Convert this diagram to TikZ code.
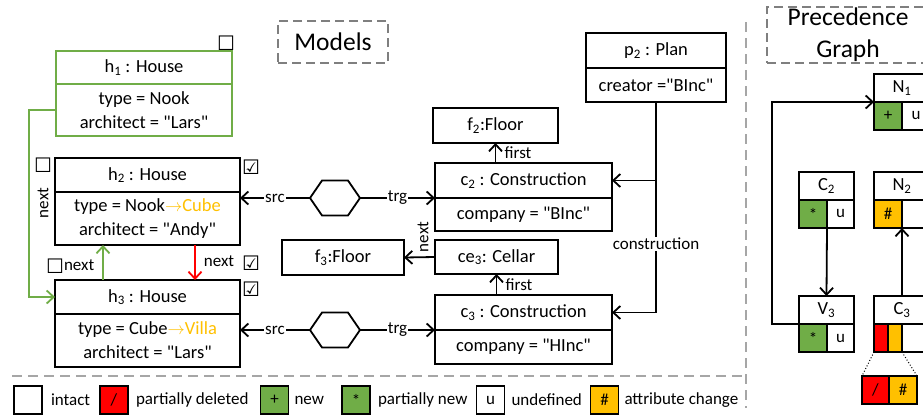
\documentclass[tikz,border=0pt]{standalone}
\usepackage{fontspec}
\setmainfont{Carlito}[Ligatures=TeXOff]
\newfontfamily\symfont{DejaVu Sans}
\usepackage{tikz}
\usetikzlibrary{positioning,arrows.meta,shapes.symbols}
\definecolor{grn}{HTML}{70AD47}
\definecolor{rd}{HTML}{FF0000}
\definecolor{orng}{HTML}{FFC000}
\definecolor{sepgray}{HTML}{A6A6A6}
\definecolor{boxgray}{HTML}{7F7F7F}
\newcommand{\tochange}[1]{\textcolor{orng}{$\rightarrow$#1}}

\begin{document}
\begin{tikzpicture}[x=1pt,y=-1pt,
  every node/.style={inner sep=0pt, outer sep=0pt, font=\fontsize{18.5}{24}\selectfont},
  hdr/.style={draw, line width=1.8pt, minimum height=34pt, align=center},
  lbl/.style={font=\fontsize{17}{20}\selectfont, fill=white, inner sep=1pt},
  chk/.style={font=\symfont\fontsize{20}{20}\selectfont},
  ttl/.style={draw=boxgray, dash pattern=on 9pt off 5pt, line width=1.4pt,
    font=\fontsize{25.5}{32}\selectfont, align=center},
  hexa/.style={draw, line width=1.8pt, shape=signal, signal to=west and east,
    signal pointer angle=111, minimum width=50pt, minimum height=35pt},
  arr/.style={line width=1.8pt, -{Straight Barb[length=7pt,width=13pt]}},
  cell/.style={draw, line width=1.8pt, minimum width=28pt, minimum height=28pt,
    font=\fontsize{17}{17}\selectfont},
  pgname/.style={draw, line width=1.8pt, minimum width=56pt, minimum height=28pt},
  sep/.style={sepgray, line width=1.3pt, dash pattern=on 10pt off 6pt}
]
\useasboundingbox (0,0) rectangle (923,415);
\clip (0,0) rectangle (923,415);

% separators and titles
\draw[sep] (12,376) -- (746,376);
\draw[sep] (746,22) -- (746,408);
\node[ttl, minimum width=110pt, minimum height=42pt] (models) at (333,42) {Models};
\node[ttl, minimum width=162pt, minimum height=56pt] (prec) at (848,35) {Precedence\\Graph};

% houses
\node[hdr, draw=grn, minimum width=176pt, minimum height=33pt] (h1) at (144,67.5) {h\textsubscript{1} : House};
\node[hdr, draw=grn, minimum width=176pt, minimum height=52pt, below=0pt of h1] (h1a) {type = Nook\\architect = "Lars"};
\node[hdr, minimum width=185pt] (h2) at (147.5,175) {h\textsubscript{2} : House};
\node[hdr, minimum width=185pt, minimum height=53pt, below=0pt of h2] (h2a) {type = Nook\tochange{Cube}\\architect = "Andy"};
\node[hdr, minimum width=185pt] (h3) at (147.5,297) {h\textsubscript{3} : House};
\node[hdr, minimum width=185pt, minimum height=53pt, below=0pt of h3] (h3a) {type = Cube\tochange{Villa}\\architect = "Lars"};
\node[chk] (cb1) at (226,43) {☐};
\node[chk] (cb2) at (43,165) {☐};
\node[chk] (cb3) at (251,167) {☑};
\node[chk] (cb4) at (251,289) {☑};

% next edges between houses
\draw[arr, grn] (h1a.west) -- ++(-27,0) |- (h3.west);
\node[lbl, rotate=90] (nxt1) at (43,203) {next};
\draw[arr, grn] ([xshift=-44.5pt]h3.north) -- ([xshift=-44.5pt]h2a.south);
\draw[arr, rd] ([xshift=47.5pt]h2a.south) -- ([xshift=47.5pt]h3.north);
\node[chk] (cb5) at (55,266) {☐};
\node[lbl, anchor=west] (nxt2) at (63,265) {next};
\node[lbl] (nxt3) at (219,261) {next};
\node[chk] (cb6) at (251,263) {☑};

% constructions
\node[hdr, minimum width=177pt, minimum height=35pt] (c2) at (523.5,180.5) {c\textsubscript{2} : Construction};
\node[hdr, minimum width=177pt, minimum height=33pt, below=0pt of c2] (c2a) {company = "BInc"};
\node[hdr, minimum width=177pt, minimum height=35pt] (c3) at (523.5,312.5) {c\textsubscript{3} : Construction};
\node[hdr, minimum width=177pt, minimum height=34pt, below=0pt of c3] (c3a) {company = "HInc"};
\node[hdr, minimum width=125pt, minimum height=35pt] (f2) at (495.5,125.5) {f\textsubscript{2}:Floor};
\node[hdr, minimum width=123pt, minimum height=34pt] (ce3) at (496.5,257) {ce\textsubscript{3}: Cellar};
\node[hdr, minimum width=122pt, minimum height=35pt] (f3) at (343,257.5) {f\textsubscript{3}:Floor};
\node[hdr, minimum width=140pt, minimum height=35pt] (p2) at (656,50.5) {p\textsubscript{2} : Plan};
\node[hdr, minimum width=140pt, minimum height=34pt, below=0pt of p2] (p2a) {creator ="BInc"};

% correspondences
\node[hexa] (hx1) at (335,198) {};
\node[hexa] (hx2) at (335,330) {};
\draw[arr] (hx1.west) -- node[lbl] {src} (hx1.west -| h2a.east);
\draw[arr] (hx1.east) -- node[lbl] {trg} (c2.south west);
\draw[arr] (hx2.west) -- node[lbl] {src} (hx2.west -| h3a.east);
\draw[arr] (hx2.east) -- node[lbl] {trg} (c3.south west);

% edges on the right
\draw[arr] (c2.north -| f2.south) -- (f2.south);
\node[lbl] (fst1) at (518,153) {first};
\draw[arr] (c3.north -| ce3.south) -- (ce3.south);
\node[lbl] (fst2) at (519,285) {first};
\draw[arr] (ce3.west) -- (f3.east);
\node[lbl, rotate=90] (nxt4) at (423,237) {next};
\draw[arr] (p2a.south) |- (c3.east);
\draw[arr] (p2a.south |- c2.east) -- (c2.east);
\node[lbl] (cons) at (656,244) {construction};

% precedence graph
\node[pgname] (N1) at (902,88) {N\textsubscript{1}};
\node[cell, fill=grn, anchor=north west] (N1a) at (N1.south west) {+};
\node[cell, right=0pt of N1a] (N1b) {u};
\node[pgname, minimum width=55pt] (C2) at (826.5,186) {C\textsubscript{2}};
\node[cell, fill=grn, anchor=north west] (C2a) at (C2.south west) {*};
\node[cell, minimum width=27pt, right=0pt of C2a] (C2b) {u};
\node[pgname] (N2) at (902,186) {N\textsubscript{2}};
\node[cell, fill=orng, anchor=north west] (N2a) at (N2.south west) {\#};
\node[cell, right=0pt of N2a] (N2b) {};
\node[pgname, minimum width=55pt] (V3) at (826.5,310) {V\textsubscript{3}};
\node[cell, fill=grn, anchor=north west] (V3a) at (V3.south west) {*};
\node[cell, minimum width=27pt, right=0pt of V3a] (V3b) {u};
\node[pgname] (C3) at (902,310) {C\textsubscript{3}};
\node[cell, minimum width=14pt, fill=rd, anchor=north west] (C3r) at (C3.south west) {};
\node[cell, minimum width=14pt, fill=orng, right=0pt of C3r] (C3o) {};
\node[cell, right=0pt of C3o] (C3b) {};
\node[cell, minimum width=27pt, fill=rd] (Zr) at (875.5,390) {/};
\node[cell, fill=orng, right=0pt of Zr] (Zo) {\#};
\draw[arr] (C2a.south east) -- (V3.north);
\draw[arr] (C3.north) -- (N2a.south east);
\draw[arr] (V3.south west) -- ++(-27,0) |- (N1.south west);
\draw[dotted, line width=1pt] (C3r.south west) -- (Zr.north west);
\draw[dotted, line width=1pt] (C3o.south east) -- (Zo.north east);

% legend
\node[cell] (lgI) at (28,400) {};
\node[lbl, right=8pt of lgI] (lgIt) {intact};
\node[cell, fill=rd] (lgD) at (114,400) {/};
\node[lbl, right=7pt of lgD] (lgDt) {partially deleted};
\node[cell, fill=grn] (lgN) at (274.5,400) {+};
\node[lbl, right=5pt of lgN] (lgNt) {new};
\node[cell, fill=grn] (lgP) at (356,400) {*};
\node[lbl, right=7pt of lgP] (lgPt) {partially new};
\node[cell] (lgU) at (490.5,400) {u};
\node[lbl, right=6pt of lgU] (lgUt) {undefined};
\node[cell, fill=orng] (lgA) at (604.5,400) {\#};
\node[lbl, right=5pt of lgA] (lgAt) {attribute change};
\end{tikzpicture}
\end{document}
